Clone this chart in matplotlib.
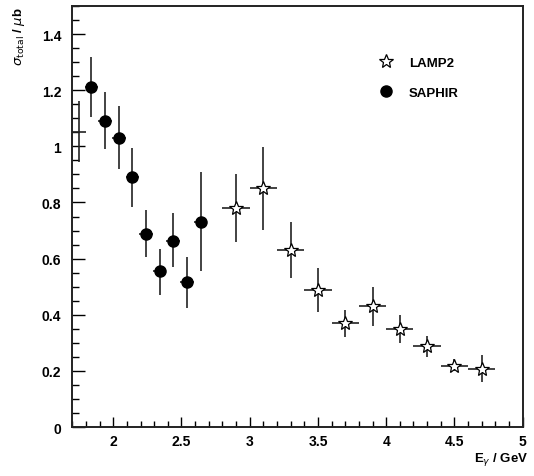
import matplotlib
matplotlib.use("Agg")
import matplotlib.pyplot as plt
from matplotlib.lines import Line2D
from matplotlib.ticker import MultipleLocator

plt.rcParams['font.family'] = ['Liberation Sans', 'DejaVu Sans']

# SAPHIR measurements
saphir_e = [1.84, 1.94, 2.04, 2.14, 2.24, 2.34, 2.44, 2.54, 2.64]
saphir_sigma = [1.213, 1.092, 1.029, 0.889, 0.689, 0.555, 0.664, 0.517, 0.731]
saphir_lo = [1.104, 0.989, 0.918, 0.785, 0.606, 0.471, 0.569, 0.424, 0.557]
saphir_hi = [1.320, 1.195, 1.143, 0.993, 0.773, 0.636, 0.761, 0.606, 0.907]
saphir_xerr = 0.05

# LAMP2 measurements
lamp_e = [2.9, 3.1, 3.3, 3.5, 3.7, 3.9, 4.1, 4.3, 4.5, 4.7]
lamp_sigma = [0.779, 0.852, 0.630, 0.489, 0.369, 0.430, 0.349, 0.288, 0.218, 0.208]
lamp_lo = [0.660, 0.703, 0.531, 0.410, 0.319, 0.360, 0.299, 0.248, 0.200, 0.160]
lamp_hi = [0.900, 0.999, 0.729, 0.568, 0.418, 0.499, 0.398, 0.326, 0.243, 0.257]
lamp_xerr = 0.1

# threshold bin (no marker)
edge_e = [1.75]
edge_sigma = [1.052]
edge_lo = [0.945]
edge_hi = [1.163]
edge_xerr = 0.05

fig = plt.figure(figsize=(5.34, 4.77), dpi=100)
ax = fig.add_axes([0.1354, 0.1027, 0.8434, 0.8826])

ecol = '#222222'

def yerr(vals, lo, hi):
    return [[v - l for v, l in zip(vals, lo)], [h - v for v, h in zip(vals, hi)]]

ax.errorbar(edge_e, edge_sigma, xerr=edge_xerr, yerr=yerr(edge_sigma, edge_lo, edge_hi),
            fmt='none', ecolor=ecol, elinewidth=1.2, capsize=0)
ax.errorbar(saphir_e, saphir_sigma, xerr=saphir_xerr,
            yerr=yerr(saphir_sigma, saphir_lo, saphir_hi),
            fmt='o', ms=8, mfc='black', mec='black', ecolor=ecol,
            elinewidth=1.2, capsize=0)
ax.errorbar(lamp_e, lamp_sigma, xerr=lamp_xerr,
            yerr=yerr(lamp_sigma, lamp_lo, lamp_hi),
            fmt='*', ms=10, mfc='white', mec='black', mew=0.9, ecolor=ecol,
            elinewidth=1.2, capsize=0)

ax.set_xlim(1.7, 5.0)
ax.set_ylim(0, 1.5)

ax.xaxis.set_minor_locator(MultipleLocator(0.1))
ax.yaxis.set_minor_locator(MultipleLocator(0.05))

ax.set_xticks([2, 2.5, 3, 3.5, 4, 4.5, 5])
ax.set_xticklabels(['2', '2.5', '3', '3.5', '4', '4.5', '5'])
ax.set_yticks([0, 0.2, 0.4, 0.6, 0.8, 1.0, 1.2, 1.4])
ax.set_yticklabels(['0', '0.2', '0.4', '0.6', '0.8', '1', '1.2', '1.4'])

ax.tick_params(axis='both', which='both', direction='in', top=False, right=False,
               labelsize=10, colors='black')
ax.tick_params(axis='x', which='major', length=7, width=1.0, pad=5)
ax.tick_params(axis='x', which='minor', length=4, width=1.0)
ax.tick_params(axis='y', which='major', length=9, width=1.0, pad=8)
ax.tick_params(axis='y', which='minor', length=5, width=1.0)
for lab in ax.get_xticklabels() + ax.get_yticklabels():
    lab.set_fontweight('bold')

for sp in ax.spines.values():
    sp.set_linewidth(1.4)
    sp.set_color('#222222')

fig.text(0.990, 0.019, r'E$_{\gamma}$ / GeV', ha='right', va='bottom',
         fontsize=9.5, fontweight='bold')
fig.text(0.036, 0.985, r'$\sigma_{\mathrm{total}}$ / $\mu$b', ha='center', va='top',
         rotation=90, fontsize=9.5, fontweight='bold')

handles = [
    Line2D([], [], ls='none', marker='*', ms=10, mfc='white', mec='black', mew=0.9),
    Line2D([], [], ls='none', marker='o', ms=8, mfc='black', mec='black'),
]
leg = ax.legend(handles, ['LAMP2', 'SAPHIR'], loc='upper left',
                bbox_to_anchor=(0.668, 0.895), frameon=False, handlelength=1.0,
                handletextpad=1.2, labelspacing=1.35, borderpad=0,
                prop={'weight': 'bold', 'size': 9.5})

fig.savefig('out.png', dpi=100)
